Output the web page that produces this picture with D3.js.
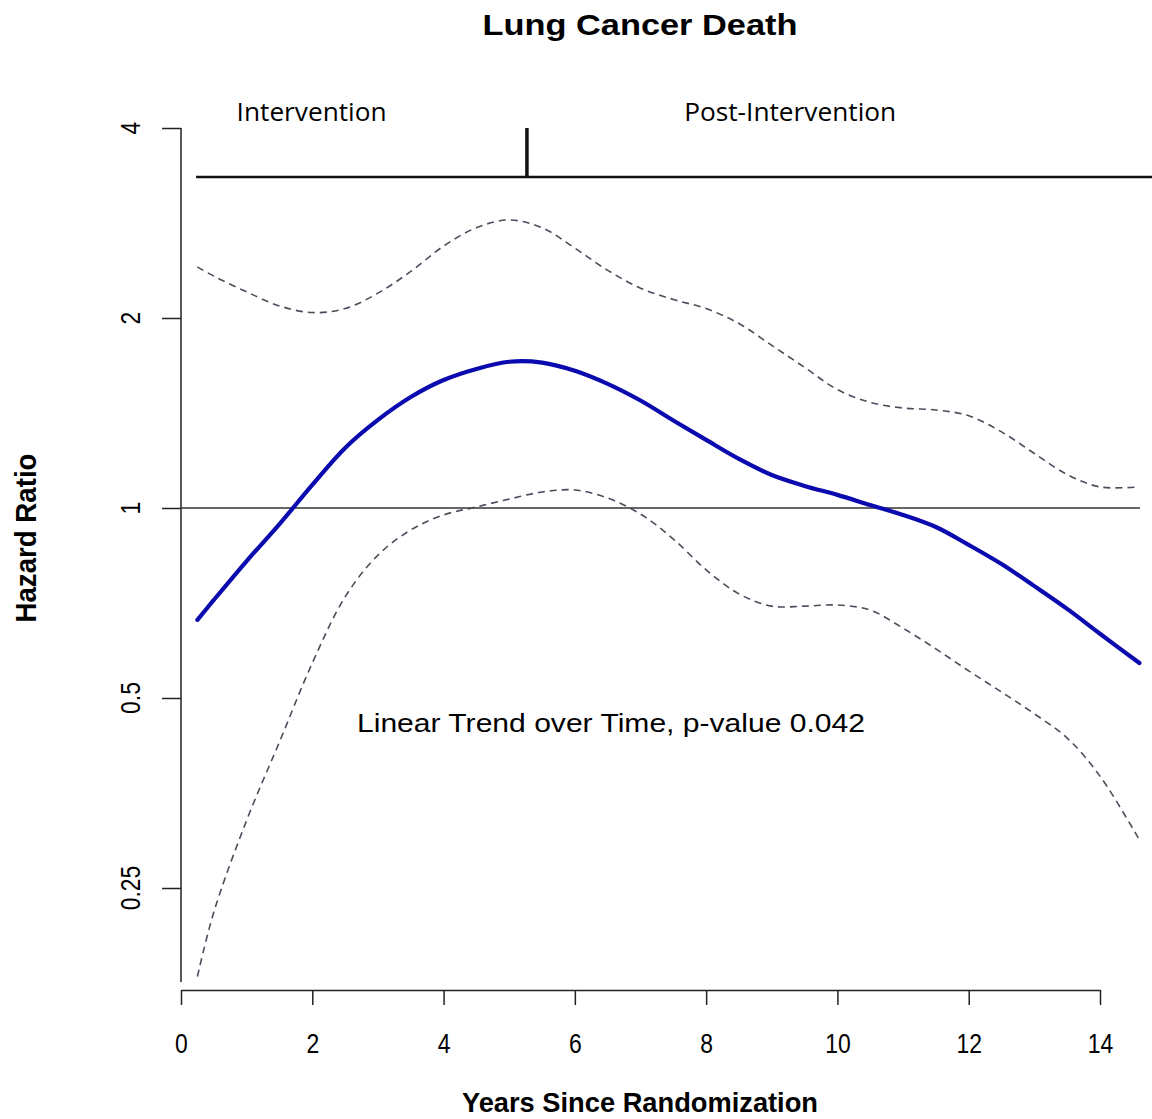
<!DOCTYPE html>
<html>
<head>
<meta charset="utf-8">
<script src="https://cdn.jsdelivr.net/npm/d3@7"></script>
<style>
  body { margin: 0; background: #fff; }
  text { font-family: "Liberation Sans", Arial, sans-serif; fill: #000; }
</style>
</head>
<body>
<div id="chart"></div>
<script>
// Years since randomization
var years = [0.25, 0.5, 1, 1.5, 2, 2.5, 3, 3.5, 4, 4.5, 5, 5.5, 6, 6.5, 7, 7.5,
             8, 8.5, 9, 9.5, 10, 10.5, 11, 11.5, 12, 12.5, 13, 13.5, 14, 14.6];

// Hazard ratio estimate
var hazard = [0.665, 0.715, 0.824, 0.943, 1.088, 1.245, 1.379, 1.499, 1.595, 1.661, 1.705, 1.700, 1.650, 1.573, 1.480, 1.376,
              1.282, 1.196, 1.128, 1.084, 1.049, 1.011, 0.975, 0.933, 0.874, 0.815, 0.752, 0.692, 0.632, 0.568];

// Upper and lower confidence bands
var upper = [2.41, 2.33, 2.20, 2.09, 2.04, 2.07, 2.19, 2.37, 2.60, 2.78, 2.86, 2.78, 2.58, 2.38, 2.23, 2.14,
             2.07, 1.96, 1.81, 1.67, 1.54, 1.47, 1.44, 1.43, 1.40, 1.32, 1.22, 1.13, 1.08, 1.08];
var lower = [0.181, 0.229, 0.320, 0.426, 0.568, 0.723, 0.842, 0.923, 0.975, 1.004, 1.033, 1.060, 1.068, 1.037, 0.978, 0.893,
             0.798, 0.731, 0.699, 0.699, 0.702, 0.689, 0.645, 0.598, 0.552, 0.511, 0.472, 0.432, 0.376, 0.298];

var xTicks = [0, 2, 4, 6, 8, 10, 12, 14];
var yTicks = [0.25, 0.5, 1, 2, 4];
var yTickLabels = ["0.25", "0.5", "1", "2", "4"];

// Study phases shown on top
var phaseStart = 0.23;
var phaseBoundary = 5.27;
var phaseEnd = 14.9;
var phaseNames = ["Intervention", "Post-Intervention"];
var phaseLabelAt = [1.99, 9.28];
var phaseLabelWidth = [150, 212];

var width = 1152, height = 1119;

var svg = d3.select("#chart").append("svg")
    .attr("width", width)
    .attr("height", height);

var x = d3.scaleLinear().domain([0, 14]).range([181, 1100]);
var y = d3.scaleLog().base(2).domain([0.25, 4]).range([888, 128]);

// title
svg.append("text")
    .attr("x", 640).attr("y", 35)
    .attr("text-anchor", "middle")
    .attr("textLength", 315).attr("lengthAdjust", "spacingAndGlyphs")
    .style("font-size", "30px").style("font-weight", "bold")
    .text("Lung Cancer Death");

// y axis
var yAxis = svg.append("g")
    .attr("transform", "translate(181,0)")
    .call(d3.axisLeft(y).tickValues(yTicks).tickSize(19).tickFormat(""));
yAxis.select(".domain").remove();
yAxis.selectAll(".tick line").attr("stroke", "#222").attr("stroke-width", 1.5);
svg.append("line")
    .attr("x1", 181).attr("x2", 181)
    .attr("y1", y(4)).attr("y2", 982)
    .attr("stroke", "#222").attr("stroke-width", 1.5);

svg.selectAll(".ylab")
    .data(yTicks)
    .enter().append("text")
    .attr("class", "ylab")
    .attr("transform", function (d) { return "translate(140," + y(d) + ") rotate(-90) scale(0.85,1)"; })
    .attr("text-anchor", "middle")
    .style("font-size", "27px")
    .text(function (d, i) { return yTickLabels[i]; });

svg.append("text")
    .attr("transform", "translate(36,538) rotate(-90)")
    .attr("text-anchor", "middle")
    .attr("textLength", 169).attr("lengthAdjust", "spacingAndGlyphs")
    .style("font-size", "30px").style("font-weight", "bold")
    .text("Hazard Ratio");

// x axis
var xAxis = svg.append("g")
    .attr("transform", "translate(0,990)")
    .call(d3.axisBottom(x).tickValues(xTicks).tickSize(15).tickSizeOuter(0));
xAxis.select(".domain").attr("stroke", "#222").attr("stroke-width", 1.5);
xAxis.selectAll(".tick line").attr("stroke", "#222").attr("stroke-width", 1.5);
xAxis.selectAll(".tick text")
    .attr("y", 63).attr("dy", null)
    .attr("transform", "scale(0.85,1)")
    .style("font-size", "27px")
    .style("font-family", "'Liberation Sans', Arial, sans-serif")
    .attr("fill", "#000");

svg.append("text")
    .attr("x", 640).attr("y", 1112)
    .attr("text-anchor", "middle")
    .attr("textLength", 356).attr("lengthAdjust", "spacingAndGlyphs")
    .style("font-size", "28px").style("font-weight", "bold")
    .text("Years Since Randomization");

// phase bar
svg.append("line")
    .attr("x1", x(phaseStart)).attr("x2", x(phaseEnd))
    .attr("y1", 177).attr("y2", 177)
    .attr("stroke", "#111").attr("stroke-width", 2.5);
svg.append("line")
    .attr("x1", x(phaseBoundary)).attr("x2", x(phaseBoundary))
    .attr("y1", 128).attr("y2", 177)
    .attr("stroke", "#111").attr("stroke-width", 3.5);
svg.selectAll(".phase")
    .data(phaseNames)
    .enter().append("text")
    .attr("class", "phase")
    .attr("x", function (d, i) { return x(phaseLabelAt[i]); })
    .attr("y", 121)
    .attr("text-anchor", "middle")
    .attr("textLength", function (d, i) { return phaseLabelWidth[i]; })
    .attr("lengthAdjust", "spacingAndGlyphs")
    .style("font-family", "'Open Sans', 'Noto Sans', sans-serif")
    .style("font-size", "25px")
    .text(function (d) { return d; });

// reference line at HR = 1
svg.append("line")
    .attr("x1", 181).attr("x2", 1140)
    .attr("y1", y(1)).attr("y2", y(1))
    .attr("stroke", "#333").attr("stroke-width", 1.5);

var line = function (vals) {
    return d3.line()
        .x(function (d, i) { return x(years[i]); })
        .y(function (d) { return y(d); })
        .curve(d3.curveCatmullRom)(vals);
};

// confidence bands
[upper, lower].forEach(function (band) {
    svg.append("path")
        .attr("d", line(band))
        .attr("fill", "none")
        .attr("stroke", "#4a4e5c")
        .attr("stroke-width", 1.6)
        .attr("stroke-dasharray", "7,5");
});

// estimate
svg.append("path")
    .attr("d", line(hazard))
    .attr("fill", "none")
    .attr("stroke", "#0a0aae")
    .attr("stroke-width", 4.2)
    .attr("stroke-linecap", "round");

svg.append("text")
    .attr("x", 611).attr("y", 732)
    .attr("text-anchor", "middle")
    .attr("textLength", 508).attr("lengthAdjust", "spacingAndGlyphs")
    .style("font-size", "26px")
    .text("Linear Trend over Time, p-value 0.042");
</script>
</body>
</html>
